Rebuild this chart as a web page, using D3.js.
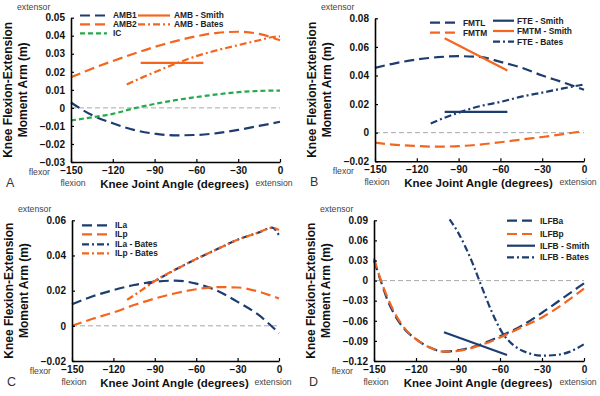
<!DOCTYPE html>
<html>
<head>
<meta charset="utf-8">
<script src="https://cdn.jsdelivr.net/npm/d3@7"></script>
<style>
  body { margin: 0; background: #fff; }
  svg { display: block; font-family: "Liberation Sans", Arial, sans-serif; }
</style>
</head>
<body>
<div id="chart"></div>
<script>
// knee moment arms vs joint angle, four panels

const angleTicks = [-150, -120, -90, -60, -30, 0];

// panel A
const yTicksA = [-0.03, -0.02, -0.01, 0, 0.01, 0.02, 0.03, 0.04, 0.05];
const angA = [-150, -135, -120, -105, -90, -75, -60, -45, -30, -15, 0];
const amb1 = [0.003, -0.004, -0.0085, -0.0122, -0.0143, -0.0152, -0.0150, -0.0140, -0.0122, -0.0100, -0.0077];
const amb2 = [0.017, 0.0217, 0.026, 0.030, 0.0338, 0.037, 0.0397, 0.0416, 0.0422, 0.041, 0.0375];
const ic = [-0.007, -0.0052, -0.0033, -0.0003, 0.0022, 0.0043, 0.006, 0.0075, 0.0087, 0.0094, 0.0096];
const ambSmithAng = [-100, -55];
const ambSmith = [0.025, 0.025];
const ambBatesAng = [-110, -100, -90, -75, -60, -45, -30, -15, -5, 0];
const ambBates = [0.013, 0.0165, 0.0198, 0.0245, 0.0287, 0.032, 0.0348, 0.0375, 0.0393, 0.0396];

// panel B
const yTicksB = [-0.02, 0, 0.02, 0.04, 0.06, 0.08];
const angB = [-150, -135, -120, -105, -90, -75, -60, -45, -30, -15, 0];
const fmtl = [0.0453, 0.0487, 0.0512, 0.0528, 0.0535, 0.053, 0.0495, 0.0455, 0.040, 0.0352, 0.030];
const fmtm = [-0.007, -0.0085, -0.0093, -0.0098, -0.0094, -0.0083, -0.0067, -0.0048, -0.003, -0.001, 0.0012];
const smithAngB = [-100, -55];
const fteSmith = [0.0145, 0.0145];
const fmtmSmith = [0.066, 0.0435];
const fteBatesAng = [-110, -100, -90, -75, -60, -45, -30, -15, 0];
const fteBates = [0.0065, 0.0105, 0.014, 0.0185, 0.0215, 0.0252, 0.028, 0.031, 0.0337];

// panel C
const yTicksC = [-0.02, 0, 0.02, 0.04, 0.06];
const angC = [-150, -135, -120, -105, -90, -75, -60, -45, -30, -15, 0];
const ila = [0.0123, 0.0168, 0.0203, 0.0232, 0.025, 0.0257, 0.024, 0.020, 0.0136, 0.0063, -0.0042];
const ilp = [0, 0.004, 0.0076, 0.0118, 0.0155, 0.0185, 0.0208, 0.022, 0.0218, 0.0195, 0.0155];
const ilaBatesAng = [-95, -90, -75, -60, -45, -30, -15, -5, 0];
const ilaBates = [0.0235, 0.0255, 0.032, 0.038, 0.0435, 0.049, 0.053, 0.0558, 0.0515];
const ilpBatesAng = [-110, -100, -90, -75, -60, -45, -30, -15, -5, 0];
const ilpBates = [0.0148, 0.020, 0.0255, 0.032, 0.038, 0.0435, 0.049, 0.053, 0.0558, 0.0545];

// panel D
const yTicksD = [-0.12, -0.09, -0.06, -0.03, 0, 0.03, 0.06, 0.09];
const angD = [-150, -145, -140, -135, -130, -120, -110, -100, -90, -75, -60, -45, -30, -15, 0];
const ilfba = [0.03, -0.0015, -0.031, -0.052, -0.068, -0.0875, -0.100, -0.106, -0.104, -0.096, -0.083, -0.068, -0.048, -0.026, -0.004];
const ilfbp = [0.033, 0, -0.027, -0.049, -0.066, -0.0875, -0.100, -0.106, -0.105, -0.097, -0.085, -0.070, -0.055, -0.035, -0.012];
const ilfbSmithAng = [-100, -55];
const ilfbSmith = [-0.077, -0.111];
const ilfbBatesAng = [-96, -90, -80, -74, -66, -58, -50, -40, -30, -20, -10, -5, 0];
const ilfbBates = [0.0915, 0.072, 0.028, -0.004, -0.046, -0.079, -0.097, -0.108, -0.112, -0.111, -0.106, -0.101, -0.095];

const navy = "#1d3d70", orange = "#f4661e", green = "#25a94a";
const longDash = "10,5", shortDash = "5,3", dashDot = "7,3,2,3";

const zip = (xs, ys) => xs.map((x, i) => [x, ys[i]]);

const panels = [
  {
    letter: "A", x0: 71, x1: 280, yTop: 17.7, yBot: 162, yDomain: [-0.03, 0.05], yTicks: yTicksA,
    series: [
      { pts: zip(angA, amb1), color: navy, dash: longDash },
      { pts: zip(angA, amb2), color: orange, dash: longDash },
      { pts: zip(angA, ic), color: green, dash: shortDash },
      { pts: zip(ambSmithAng, ambSmith), color: orange, dash: null },
      { pts: zip(ambBatesAng, ambBates), color: orange, dash: dashDot }
    ],
    legend: [
      { label: "AMB1", color: navy, dash: longDash, lx: 80, lw: 27, tx: 113, y: 15.5 },
      { label: "AMB2", color: orange, dash: longDash, lx: 80, lw: 27, tx: 113, y: 24.3 },
      { label: "IC", color: green, dash: shortDash, lx: 80, lw: 27, tx: 113, y: 33.3 },
      { label: "AMB - Smith", color: orange, dash: null, lx: 138, lw: 32, tx: 174, y: 15.5 },
      { label: "AMB - Bates", color: orange, dash: dashDot, lx: 138, lw: 32, tx: 174, y: 24.3 }
    ]
  },
  {
    letter: "B", x0: 375, x1: 584, yTop: 18.3, yBot: 161.3, yDomain: [-0.02, 0.08], yTicks: yTicksB,
    series: [
      { pts: zip(angB, fmtl), color: navy, dash: longDash },
      { pts: zip(angB, fmtm), color: orange, dash: longDash },
      { pts: zip(smithAngB, fteSmith), color: navy, dash: null },
      { pts: zip(smithAngB, fmtmSmith), color: orange, dash: null },
      { pts: zip(fteBatesAng, fteBates), color: navy, dash: dashDot }
    ],
    legend: [
      { label: "FMTL", color: navy, dash: longDash, lx: 430, lw: 26, tx: 463, y: 22.7 },
      { label: "FMTM", color: orange, dash: longDash, lx: 430, lw: 26, tx: 463, y: 32.7 },
      { label: "FTE - Smith", color: navy, dash: null, lx: 493, lw: 21, tx: 517, y: 20.7 },
      { label: "FMTM - Smith", color: orange, dash: null, lx: 493, lw: 21, tx: 517, y: 31 },
      { label: "FTE - Bates", color: navy, dash: dashDot, lx: 493, lw: 21, tx: 517, y: 41.7 }
    ]
  },
  {
    letter: "C", x0: 72, x1: 279, yTop: 220.3, yBot: 361, yDomain: [-0.02, 0.06], yTicks: yTicksC,
    series: [
      { pts: zip(angC, ila), color: navy, dash: longDash },
      { pts: zip(angC, ilp), color: orange, dash: longDash },
      { pts: zip(ilaBatesAng, ilaBates), color: navy, dash: dashDot },
      { pts: zip(ilpBatesAng, ilpBates), color: orange, dash: dashDot }
    ],
    legend: [
      { label: "ILa", color: navy, dash: longDash, lx: 82, lw: 28, tx: 115, y: 225.3 },
      { label: "ILp", color: orange, dash: longDash, lx: 82, lw: 28, tx: 115, y: 234.3 },
      { label: "ILa - Bates", color: navy, dash: dashDot, lx: 82, lw: 28, tx: 115, y: 244.3 },
      { label: "ILp - Bates", color: orange, dash: dashDot, lx: 82, lw: 28, tx: 115, y: 253.3 }
    ]
  },
  {
    letter: "D", x0: 374, x1: 584, yTop: 220.3, yBot: 361, yDomain: [-0.12, 0.09], yTicks: yTicksD,
    series: [
      { pts: zip(angD, ilfba), color: navy, dash: longDash },
      { pts: zip(angD, ilfbp), color: orange, dash: longDash },
      { pts: zip(ilfbSmithAng, ilfbSmith), color: navy, dash: null },
      { pts: zip(ilfbBatesAng, ilfbBates), color: navy, dash: dashDot }
    ],
    legend: [
      { label: "ILFBa", color: navy, dash: longDash, lx: 507, lw: 28, tx: 540, y: 220.7 },
      { label: "ILFBp", color: orange, dash: longDash, lx: 507, lw: 28, tx: 540, y: 234 },
      { label: "ILFB - Smith", color: navy, dash: null, lx: 507, lw: 28, tx: 540, y: 245.7 },
      { label: "ILFB - Bates", color: navy, dash: dashDot, lx: 507, lw: 28, tx: 540, y: 257.3 }
    ]
  }
];

const svg = d3.select("#chart").append("svg")
  .attr("width", 600).attr("height", 396);

const fmtY = d => d === 0 ? "0" : d3.format(".2f")(d);
const fmtX = d => d3.format("d")(d);

panels.forEach(p => {
  const x = d3.scaleLinear().domain([-150, 0]).range([p.x0, p.x1]);
  const y = d3.scaleLinear().domain(p.yDomain).range([p.yBot, p.yTop]);
  const g = svg.append("g");

  // zero reference line
  g.append("line")
    .attr("x1", x(-150)).attr("x2", x(0))
    .attr("y1", y(0)).attr("y2", y(0))
    .attr("stroke", "#a8a8a8").attr("stroke-width", 1)
    .attr("stroke-dasharray", "5,3");

  const line = d3.line()
    .x(d => x(d[0])).y(d => y(d[1]))
    .curve(d3.curveMonotoneX);

  p.series.forEach(s => {
    g.append("path")
      .attr("d", line(s.pts))
      .attr("fill", "none")
      .attr("stroke", s.color)
      .attr("stroke-width", 2.2)
      .attr("stroke-dasharray", s.dash);
  });

  // axes
  const yAxis = g.append("g")
    .attr("transform", `translate(${p.x0},0)`)
    .call(d3.axisLeft(y).tickValues(p.yTicks).tickFormat(fmtY).tickSize(-3).tickSizeOuter(0).tickPadding(6));
  const xAxis = g.append("g")
    .attr("transform", `translate(0,${p.yBot})`)
    .call(d3.axisBottom(x).tickValues(angleTicks).tickFormat(fmtX).tickSize(-3).tickSizeOuter(0).tickPadding(5));
  [yAxis, xAxis].forEach(a => {
    a.select(".domain").attr("stroke", "#000").attr("stroke-width", 1.6);
    a.selectAll(".tick line").attr("stroke", "#000").attr("stroke-width", 1.2);
    a.selectAll(".tick text")
      .attr("fill", "#111")
      .style("font-size", "10px")
      .style("font-weight", "bold")
      .style("font-family", "'Liberation Sans', Arial, sans-serif");
  });

  // legend
  p.legend.forEach(l => {
    g.append("line")
      .attr("x1", l.lx).attr("x2", l.lx + l.lw)
      .attr("y1", l.y).attr("y2", l.y)
      .attr("stroke", l.color).attr("stroke-width", 2.2)
      .attr("stroke-dasharray", l.dash);
    g.append("text")
      .attr("x", l.tx).attr("y", l.y)
      .attr("dy", "0.35em")
      .style("font-size", "8.4px").style("font-weight", "bold")
      .attr("fill", "#222")
      .text(l.label);
  });

  // titles
  const yMid = (p.yTop + p.yBot) / 2;
  const ytitle = g.append("text")
    .attr("transform", `translate(${p.x0 - 59},${yMid}) rotate(-90)`)
    .attr("text-anchor", "middle")
    .style("font-size", "12px").style("font-weight", "bold")
    .attr("fill", "#111");
  ytitle.append("tspan").attr("x", 0).attr("dy", 0).text("Knee Flexion-Extension");
  ytitle.append("tspan").attr("x", 0).attr("dy", 15).text("Moment Arm (m)");

  g.append("text")
    .attr("x", (p.x0 + p.x1) / 2 - 1).attr("y", p.yBot + 26)
    .attr("text-anchor", "middle")
    .style("font-size", "11.5px").style("font-weight", "bold")
    .attr("fill", "#111")
    .text("Knee Joint Angle (degrees)");

  const small = (txt, xx, yy, anchor) => g.append("text")
    .attr("x", xx).attr("y", yy)
    .attr("text-anchor", anchor)
    .style("font-size", "8.7px")
    .attr("fill", "#444")
    .text(txt);
  small("extensor", p.x0 - 54, p.yTop - 8, "start");
  small("flexor", p.x0 - 21, p.yBot + 13, "end");
  small("flexion", p.x0 + 2, p.yBot + 23.5, "middle");
  small("extension", p.x1 - 6, p.yBot + 23.5, "middle");

  g.append("text")
    .attr("x", p.x0 - 65).attr("y", p.yBot + 25)
    .style("font-size", "12.5px")
    .attr("fill", "#333")
    .text(p.letter);
});
</script>
</body>
</html>
